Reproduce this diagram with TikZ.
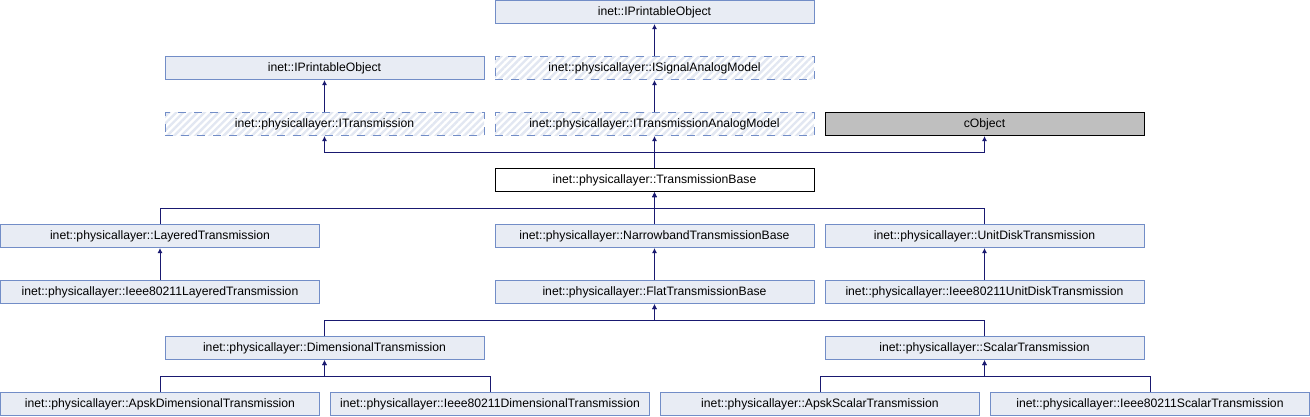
\documentclass[tikz,border=0pt]{standalone}
\usepackage{fontspec}
\setmainfont{Liberation Sans}
\usepackage{tikz}
\usetikzlibrary{arrows.meta,patterns.meta}
\definecolor{boxfill}{RGB}{232,236,244}
\definecolor{boxline}{RGB}{114,141,199}
\definecolor{hatchline}{RGB}{226,231,242}
\definecolor{edgeline}{RGB}{25,25,112}
\definecolor{extfill}{RGB}{191,191,191}
\tikzset{
	cls/.style={draw=boxline, fill=boxfill, line width=0.35mm, minimum width=319pt, minimum height=23pt, inner sep=0pt, font=\fontsize{12.2}{14}\selectfont},
	iface/.style={cls, fill=none, dash pattern=on 8pt off 8pt,
		preaction={draw=none, fill=white},
		preaction={draw=none, pattern={Lines[angle=45,distance=5pt,line width=2.4pt]}, pattern color=hatchline}},
	ext/.style={cls, draw=black, fill=extfill},
	self/.style={cls, draw=black, fill=white},
	edge/.style={draw=edgeline, line width=0.35mm, -{Latex[length=5pt,width=5pt]}}
}

\begin{document}
\begin{tikzpicture}[x=1pt, y=-1pt]
		%%%%% START %%%%%
		
		\useasboundingbox (0, 0) rectangle (1310, 416);
		
		\node[cls] (topobj) at (654.5, 12) {inet::IPrintableObject};
		\node[cls] (leftobj) at (324.5, 68) {inet::IPrintableObject};
		\node[iface] (sigmodel) at (654.5, 68) {inet::physicallayer::ISignalAnalogModel};
		\node[iface] (itx) at (324.5, 124) {inet::physicallayer::ITransmission};
		\node[iface] (itxmodel) at (654.5, 124) {inet::physicallayer::ITransmissionAnalogModel};
		\node[ext] (cobj) at (984.5, 124) {cObject};
		
		\node[self] (txbase) at (654.5, 180) {inet::physicallayer::TransmissionBase};
		
		\node[cls] (layered) at (160, 236) {inet::physicallayer::LayeredTransmission};
		\node[cls] (nbbase) at (654.5, 236) {inet::physicallayer::NarrowbandTransmissionBase};
		\node[cls] (unidisk) at (984.5, 236) {inet::physicallayer::UnitDiskTransmission};
		
		\node[cls] (ieeelayered) at (160, 292) {inet::physicallayer::Ieee80211LayeredTransmission};
		\node[cls] (flatbase) at (654.5, 292) {inet::physicallayer::FlatTransmissionBase};
		\node[cls] (ieeeunidisk) at (984.5, 292) {inet::physicallayer::Ieee80211UnitDiskTransmission};
		
		\node[cls] (dimtx) at (324.5, 348) {inet::physicallayer::DimensionalTransmission};
		\node[cls] (scaltx) at (984.5, 348) {inet::physicallayer::ScalarTransmission};
		
		\node[cls] (apskdim) at (160, 404) {inet::physicallayer::ApskDimensionalTransmission};
		\node[cls] (ieeedim) at (490, 404) {inet::physicallayer::Ieee80211DimensionalTransmission};
		\node[cls] (apskscal) at (820, 404) {inet::physicallayer::ApskScalarTransmission};
		\node[cls] (ieeescal) at (1150, 404) {inet::physicallayer::Ieee80211ScalarTransmission};
		
		\coordinate (busa) at (0, 152);
		\coordinate (busb) at (0, 208);
		\coordinate (busc) at (0, 320);
		\coordinate (busd) at (0, 376);
		
		\draw[edge] (sigmodel.north) -- (topobj.south);
		\draw[edge] (itx.north) -- (leftobj.south);
		\draw[edge] (itxmodel.north) -- (sigmodel.south);
		
		\draw[edge] (txbase.north) -- (txbase.north |- busa) -| (itx.south);
		\draw[edge] (txbase.north) -- (itxmodel.south);
		\draw[edge] (txbase.north) -- (txbase.north |- busa) -| (cobj.south);
		
		\draw[edge] (layered.north) -- (layered.north |- busb) -| (txbase.south);
		\draw[edge] (nbbase.north) -- (txbase.south);
		\draw[edge] (unidisk.north) -- (unidisk.north |- busb) -| (txbase.south);
		
		\draw[edge] (ieeelayered.north) -- (layered.south);
		\draw[edge] (flatbase.north) -- (nbbase.south);
		\draw[edge] (ieeeunidisk.north) -- (unidisk.south);
		
		\draw[edge] (dimtx.north) -- (dimtx.north |- busc) -| (flatbase.south);
		\draw[edge] (scaltx.north) -- (scaltx.north |- busc) -| (flatbase.south);
		
		\draw[edge] (apskdim.north) -- (apskdim.north |- busd) -| (dimtx.south);
		\draw[edge] (ieeedim.north) -- (ieeedim.north |- busd) -| (dimtx.south);
		\draw[edge] (apskscal.north) -- (apskscal.north |- busd) -| (scaltx.south);
		\draw[edge] (ieeescal.north) -- (ieeescal.north |- busd) -| (scaltx.south);
		
		%%%%% END %%%%%
	\end{tikzpicture}
\end{document}
